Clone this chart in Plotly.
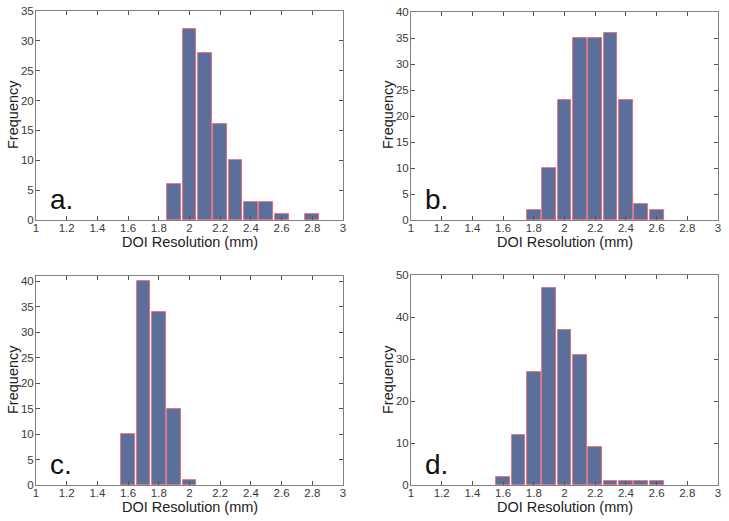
import plotly.graph_objects as go

bins_a = [1.9, 2.0, 2.1, 2.2, 2.3, 2.4, 2.5, 2.6, 2.8]
freq_a = [6, 32, 28, 16, 10, 3, 3, 1, 1]
bins_b = [1.8, 1.9, 2.0, 2.1, 2.2, 2.3, 2.4, 2.5, 2.6]
freq_b = [2, 10, 23, 35, 35, 36, 23, 3, 2]
bins_c = [1.6, 1.7, 1.8, 1.9, 2.0]
freq_c = [10, 40, 34, 15, 1]
bins_d = [1.6, 1.7, 1.8, 1.9, 2.0, 2.1, 2.2, 2.3, 2.4, 2.5, 2.6]
freq_d = [2, 12, 27, 47, 37, 31, 9, 1, 1, 1, 1]

x_tickvals = [1, 1.2, 1.4, 1.6, 1.8, 2, 2.2, 2.4, 2.6, 2.8, 3]
x_ticktext = ["1", "1.2", "1.4", "1.6", "1.8", "2", "2.2", "2.4", "2.6", "2.8", "3"]
panel_labels = ["a.", "b.", "c.", "d."]
x_title = "DOI Resolution (mm)"
y_title = "Frequency"

W, H = 729, 521
def dom_x(l, r): return [l / W, r / W]
def dom_y(t, b): return [1 - b / H, 1 - t / H]

# (bins, freq, xdomain, ydomain, yrange, dtick, xtitle_px(x,y), ytitle_px(x,y))
panels = [
    (bins_a, freq_a, dom_x(36, 343), dom_y(11, 220), [0, 35], 5, (190, 242), (13, 115)),
    (bins_b, freq_b, dom_x(411, 718), dom_y(12, 220), [0, 40], 5, (565, 242), (388, 115)),
    (bins_c, freq_c, dom_x(36, 343), dom_y(276, 485), [0, 41], 5, (190, 507), (13, 380)),
    (bins_d, freq_d, dom_x(411, 718), dom_y(275, 485), [0, 50], 10, (565, 507), (388, 380)),
]

fig = go.Figure()
font = "Liberation Sans, Arial, sans-serif"
for i, (bx, fy, dx, dy, yr, dt, xt, yt) in enumerate(panels):
    n = "" if i == 0 else str(i + 1)
    fig.add_trace(go.Bar(
        x=bx, y=fy, width=0.09,
        marker=dict(color="#5b6f9b", line=dict(color="#f06070", width=0.8)),
        xaxis="x" + n, yaxis="y" + n, showlegend=False,
    ))
    axcommon = dict(showline=True, linecolor="#808080", linewidth=1, mirror="ticks",
                    ticks="inside", ticklen=4, tickcolor="#555", showgrid=False, zeroline=False,
                    automargin=False, ticklabeloverflow="allow",
                    tickfont=dict(family=font, size=11.5, color="#3a3a3a"))
    fig.update_layout(**{
        "xaxis" + n: dict(domain=dx, range=[1, 3], tickvals=x_tickvals, ticktext=x_ticktext,
                          anchor="y" + n, ticklabelstandoff=-3, **axcommon),
        "yaxis" + n: dict(domain=dy, range=yr, dtick=dt, anchor="x" + n,
                          ticklabelstandoff=-1, **axcommon),
    })
    fig.add_annotation(x=xt[0] / W, y=1 - xt[1] / H, xref="paper", yref="paper",
                       text=x_title, showarrow=False, xanchor="center", yanchor="middle",
                       font=dict(family=font, size=14.5, color="#222"))
    fig.add_annotation(x=yt[0] / W, y=1 - yt[1] / H, xref="paper", yref="paper",
                       text=y_title, showarrow=False, xanchor="center", yanchor="middle",
                       textangle=-90, font=dict(family=font, size=14.5, color="#222"))
    fig.add_annotation(x=1.08, y=0, yshift=3, xref="x" + n, yref="y" + n, text=panel_labels[i],
                       showarrow=False, xanchor="left", yanchor="bottom",
                       font=dict(family=font, size=28, color="#111"))

fig.update_layout(width=W, height=H, margin=dict(l=0, r=0, t=0, b=0),
                  plot_bgcolor="white", paper_bgcolor="white", bargap=0)
fig.write_html("out.html", config={"displayModeBar": False},
               post_script="document.body.style.margin='0';")
